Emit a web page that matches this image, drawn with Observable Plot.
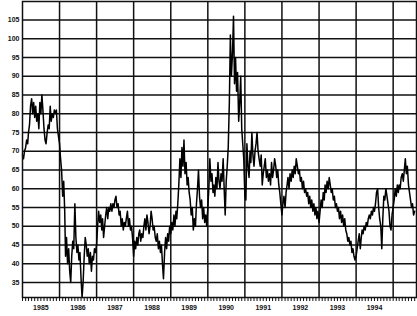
<!DOCTYPE html>
<html>
<head>
<meta charset="utf-8">
<script src="https://cdn.jsdelivr.net/npm/d3@7"></script>
<script src="https://cdn.jsdelivr.net/npm/@observablehq/plot@0.6"></script>
<style>
  html, body { margin: 0; padding: 0; background: #fff; }
  #chart { width: 417px; height: 316px; overflow: hidden; }
</style>
</head>
<body>
<div id="chart"></div>
<script>
// values sampled 3 times a month (1st, 11th, 21st)
const y1985 = [69,68,70,71,73,72,75,77,82,84,80,83,79,82,78,80,76,83,80,85,81,76,73,72,75,77,76,82,78,80,79,81,80,81,76,74];
const y1986 = [72,68,65,58,62,54,42,47,40,44,38,35,42,46,44,56,47,43,45,41,43,36,31,35,42,47,45,42,44,40,43,38,42,41,44,43];
const y1987 = [45,50,54,51,53,49,52,47,50,53,55,52,55,54,56,54,56,55,57,58,55,56,53,54,50,52,49,51,50,52,54,50,52,49,50,47];
const y1988 = [42,46,44,47,45,48,49,46,48,47,50,52,49,53,51,48,50,54,52,49,50,47,46,48,44,46,43,45,40,36,43,47,44,48,46,50];
const y1989 = [48,51,49,53,50,54,52,56,61,68,63,71,66,73,64,67,61,63,59,57,53,55,49,52,50,56,60,65,58,55,57,52,55,51,53,50];
const y1990 = [55,60,68,62,64,59,61,58,63,60,67,62,60,64,62,68,60,53,62,66,71,83,101,90,96,106,88,95,86,91,78,83,90,76,72,68];
const y1991 = [58,57,72,66,63,70,67,75,69,66,70,72,75,70,68,66,69,61,64,66,68,63,65,62,64,61,67,63,65,68,66,63,65,61,59,56];
const y1992 = [53,56,58,55,59,61,63,60,64,62,65,63,66,64,68,66,64,65,62,63,60,62,59,60,58,59,56,58,55,57,54,56,53,55,52,54];
const y1993 = [51,54,57,55,59,57,61,59,62,60,63,61,59,60,57,58,55,56,54,55,52,54,51,53,50,52,49,48,46,47,45,46,43,44,42,41];
const y1994 = [42,44,46,48,44,47,49,48,50,49,51,50,52,53,52,54,53,55,54,56,59,60,55,52,50,44,52,58,57,60,58,56,54,50,49,53];
const y1995 = [55,57,60,58,61,59,61,60,63,64,62,65,68,64,66,61,59,57,55,56,53,54];

const years = [1985,1986,1987,1988,1989,1990,1991,1992,1993,1994,1995];
const series = [y1985,y1986,y1987,y1988,y1989,y1990,y1991,y1992,y1993,y1994,y1995];
const yTicks = [35,40,45,50,55,60,65,70,75,80,85,90,95,100,105];
const yearLabels = [1985,1986,1987,1988,1989,1990,1991,1992,1993,1994];

const data = series.flatMap((arr, k) => arr.map((v, i) => ({
  date: new Date(Date.UTC(years[k], Math.floor(i / 3), 1 + 10 * (i % 3))),
  value: v
})));

const xStart = new Date(Date.UTC(1985, 0, 1));
const xEnd = new Date(Date.UTC(1995, 7, 19));
const yearLines = years.slice(1).map(y => new Date(Date.UTC(y, 0, 1)));
const monthTicks = d3.utcMonth.range(xStart, xEnd);
const midYears = yearLabels.map(y => new Date(Date.UTC(y, 6, 1)));

const chart = Plot.plot({
  width: 417,
  height: 316,
  marginLeft: 22,
  marginRight: 1,
  marginTop: 1,
  marginBottom: 19,
  style: {background: "#fff", fontFamily: "Liberation Sans, Arial, sans-serif", fontSize: "7px", fontWeight: "bold", color: "#111"},
  x: {type: "utc", domain: [xStart, xEnd], label: null},
  y: {domain: [31, 109.9], label: null},
  marks: [
    Plot.gridY(yTicks, {stroke: "#111", strokeOpacity: 1, strokeWidth: 1.5}),
    Plot.gridX(yearLines, {stroke: "#111", strokeOpacity: 1, strokeWidth: 1.5}),
    Plot.line(data, {x: "date", y: "value", stroke: "#000", strokeWidth: 1.5}),
    Plot.frame({stroke: "#111", strokeWidth: 1.5}),
    Plot.axisY(yTicks, {tickSize: 0, tickPadding: 3, label: null}),
    Plot.axisX(monthTicks, {tickSize: 4, tickFormat: () => "", label: null, stroke: "#111"}),
    Plot.axisX(midYears, {tickSize: 0, tickPadding: 8, tickFormat: d3.utcFormat("%Y"), label: null})
  ]
});
document.getElementById("chart").appendChild(chart);
</script>
</body>
</html>
